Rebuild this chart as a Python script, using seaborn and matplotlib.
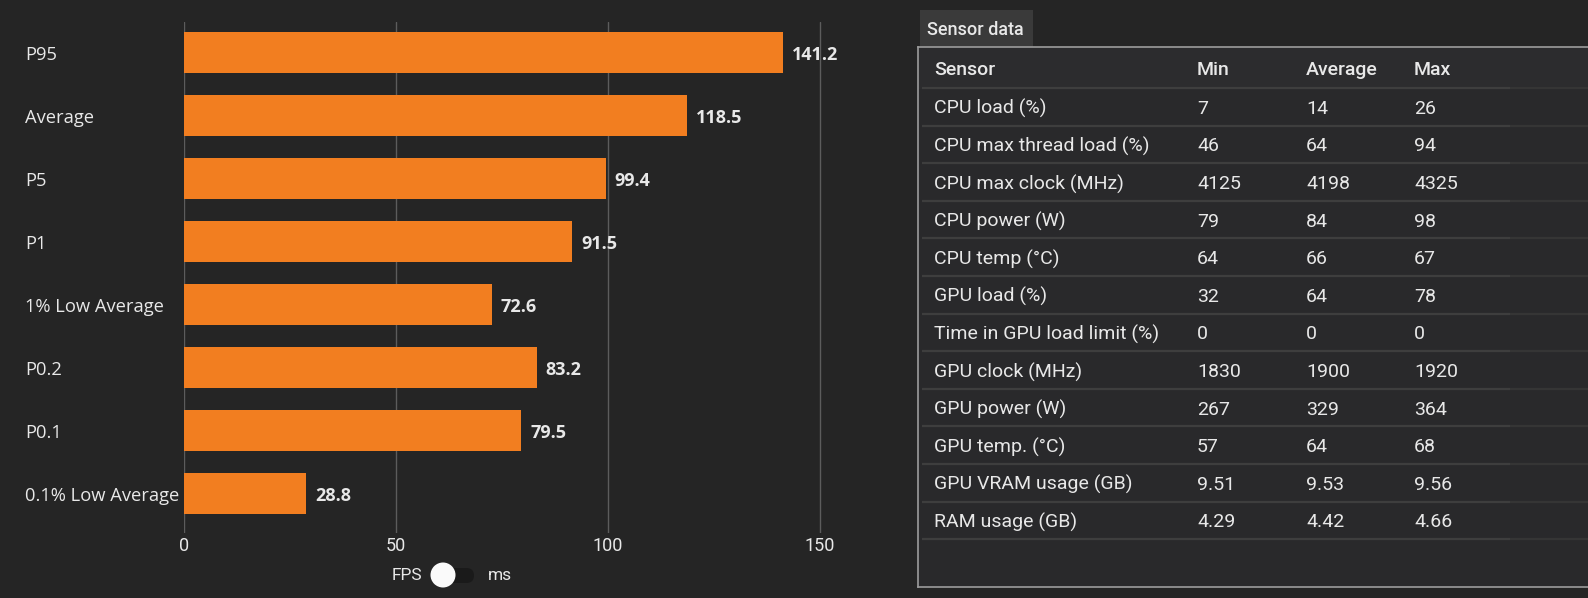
import numpy as np
import pandas as pd
import matplotlib
matplotlib.use("Agg")
import matplotlib.pyplot as plt
from matplotlib.patches import FancyBboxPatch, Circle, Rectangle
import seaborn as sns

# chart data
metrics = ["P95", "Average", "P5", "P1", "1% Low Average", "P0.2", "P0.1", "0.1% Low Average"]
fps = [141.2, 118.5, 99.4, 91.5, 72.6, 83.2, 79.5, 28.8]
x_ticks = [0, 50, 100, 150]

# sensor table data
sensors = ["CPU load (%)", "CPU max thread load (%)", "CPU max clock (MHz)", "CPU power (W)",
           "CPU temp (°C)", "GPU load (%)", "Time in GPU load limit (%)", "GPU clock (MHz)",
           "GPU power (W)", "GPU temp. (°C)", "GPU VRAM usage (GB)", "RAM usage (GB)"]
s_min = ["7", "46", "4125", "79", "64", "32", "0", "1830", "267", "57", "9.51", "4.29"]
s_avg = ["14", "64", "4198", "84", "66", "64", "0", "1900", "329", "64", "9.53", "4.42"]
s_max = ["26", "94", "4325", "98", "67", "78", "0", "1920", "364", "68", "9.56", "4.66"]
headers = ["Sensor", "Min", "Average", "Max"]

W, H = 1588, 598
BG = "#252525"
ORANGE = "#F27E20"
TXT = "#E8E8E8"


def px_rect(x0, y0, x1, y1):
    return [x0 / W, 1 - y1 / H, (x1 - x0) / W, (y1 - y0) / H]


sns.set_theme(style="dark")
plt.rcParams["font.family"] = ["Open Sans", "DejaVu Sans"]

fig = plt.figure(figsize=(W / 100, H / 100), dpi=100, facecolor=BG)

# ---- bar chart ----
ax = fig.add_axes(px_rect(184, 22, 860, 533))
ax.set_facecolor(BG)
df = pd.DataFrame({"metric": metrics, "fps": fps})
sns.barplot(data=df, x="fps", y="metric", orient="h", color=ORANGE, saturation=1,
            width=0.65, linewidth=0, ax=ax, zorder=3)
ax.set_xlim(0, 159.4)
ax.set_ylim(7.627, -0.484)
ax.set_xticks(x_ticks)
ax.xaxis.grid(True, color="#5c5c5c", lw=1)
ax.yaxis.grid(False)
for s in ax.spines.values():
    s.set_visible(False)
ax.set_xlabel("")
ax.set_ylabel("")
ax.tick_params(axis="x", length=0, pad=3, colors=TXT, labelsize=13)
for lab in ax.get_xticklabels():
    lab.set_fontfamily(["Roboto", "DejaVu Sans"])

# category labels, left aligned at the figure's left margin
ax.set_yticklabels([])
ax.tick_params(axis="y", length=0)
for i, m in enumerate(metrics):
    ax.text(-0.235, i + 0.045, m, transform=ax.get_yaxis_transform(), ha="left",
            va="center", color=TXT, fontsize=13.2)

for i, v in enumerate(fps):
    ax.annotate(f"{v:.1f}", (v, i), xytext=(6.5, -2), textcoords="offset points",
                va="center", ha="left", color=TXT, fontsize=13, fontweight="bold")

# ---- overlay for toggle + tab ----
ov = fig.add_axes([0, 0, 1, 1], zorder=-1)
ov.set_xlim(0, W)
ov.set_ylim(H, 0)
ov.axis("off")
ov.patch.set_alpha(0)

ov.text(407, 576, "FPS", ha="center", va="center", color=TXT, fontsize=12.5,
        family=["Roboto", "DejaVu Sans"])
ov.text(500, 576, "ms", ha="center", va="center", color=TXT, fontsize=12.5,
        family=["Roboto", "DejaVu Sans"])
ov.add_patch(FancyBboxPatch((436, 568), 38, 15, boxstyle="round,pad=0,rounding_size=7.5",
                            fc="#1a1a1a", ec="none"))
ov.add_patch(Circle((443, 575), 12.5, fc="#FAFAFA", ec="none"))

# tab
ov.add_patch(Rectangle((920, 10), 113, 37, fc="#3a3a3a", ec="none"))
ov.text(927, 30, "Sensor data", ha="left", va="center", color=TXT, fontsize=13,
        fontweight="medium", family=["Roboto", "DejaVu Sans"])

# ---- sensor table ----
tx0, ty0, tx1, ty1 = 918, 47, 1588, 587
tb = fig.add_axes(px_rect(tx0, ty0, tx1, ty1))
tb.set_xlim(tx0, tx1)
tb.set_ylim(ty1, ty0)
tb.set_facecolor("#29292b")
tb.set_xticks([])
tb.set_yticks([])
for name, s in tb.spines.items():
    s.set_color("#9c9c9c")
    s.set_linewidth(1.2)
tb.spines["right"].set_visible(False)

col_x = [934, 1197, 1306, 1414]
header_y = 70
row0 = 88
pitch = 37.6

tb.axhspan(ty0, row0, color="#2c2c2e", zorder=0)
for x, h in zip(col_x, headers):
    tb.text(x, header_y, h, ha="left", va="center", color=TXT, fontsize=14,
            fontweight="medium", family=["Roboto", "DejaVu Sans"])

for i in range(len(sensors) + 1):
    y = row0 + i * pitch
    tb.plot([922, 1510], [y, y], color="#3e3e3e", lw=1.6, solid_capstyle="butt")
    tb.plot([1510, tx1], [y, y], color="#353535", lw=1.6, solid_capstyle="butt")

for i, row in enumerate(zip(sensors, s_min, s_avg, s_max)):
    y = row0 + (i + 0.5) * pitch + 2
    for x, val in zip(col_x, row):
        tb.text(x, y, val, ha="left", va="center", color=TXT, fontsize=14,
                family=["Roboto", "DejaVu Sans"])

fig.savefig("out.png", dpi=100, facecolor=BG)
